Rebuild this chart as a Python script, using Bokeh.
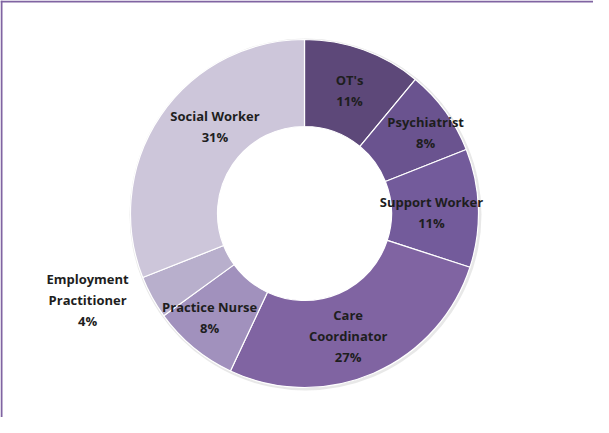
import numpy as np
from bokeh.plotting import figure
from bokeh.models import Range1d, Span, ColumnDataSource
from bokeh.core.properties import value
from bokeh.embed import file_html
from bokeh.resources import INLINE

# ---- data ----
categories = ["OT's", "Psychiatrist", "Support Worker", "Care Coordinator",
              "Practice Nurse", "Employment Practitioner", "Social Worker"]
label_names = ["OT's", "Psychiatrist", "Support Worker", "Care\nCoordinator",
               "Practice Nurse", "Employment\nPractitioner", "Social Worker"]
percent = [11, 8, 11, 27, 8, 4, 31]
colors = ["#5d4879", "#6a538f", "#735b9b", "#8064a2", "#a191bd", "#b8afcc", "#cdc6da"]

# ---- geometry (pixels == data units) ----
W, H = 593, 417
cx_px, cy_px = 304, 213          # donut centre inside the figure (from top-left)
R_OUT, R_IN, R_LAB = 174, 87, 130

vals = np.array(percent, dtype=float)
frac = vals / vals.sum()
cum = np.concatenate([[0], np.cumsum(frac)])
start = np.pi / 2 - 2 * np.pi * cum[:-1]
end = np.pi / 2 - 2 * np.pi * cum[1:]
mid = (cum[:-1] + cum[1:]) / 2 * 2 * np.pi   # clockwise from 12 o'clock

src = ColumnDataSource(dict(start=start, end=end, color=colors, cat=categories))

p = figure(width=W, height=H, output_backend="svg", toolbar_location=None,
           x_range=Range1d(-cx_px, W - cx_px), y_range=Range1d(cy_px - H, cy_px),
           min_border=0, background_fill_color="white", border_fill_color="white")
p.axis.visible = False
p.grid.visible = False
p.outline_line_color = None

# faint shadow ring around the donut
p.annulus(x=1, y=-1, inner_radius=R_OUT - 2, outer_radius=R_OUT + 2,
          fill_color="#d9d9d9", fill_alpha=0.6, line_color=None)

p.annular_wedge(x=0, y=0, inner_radius=R_IN, outer_radius=R_OUT,
                start_angle="start", end_angle="end", direction="clock",
                fill_color="color", line_color="white", line_width=1.2, source=src)

# label placement: slice centre plus small pixel nudges (as in the original)
x_off = [1, 16, -3, -8, -12, -103, 18]
y_off = [-1, -5, 3, 3, 4, 24, -14]
lab = ColumnDataSource(dict(x=R_LAB * np.sin(mid), y=R_LAB * np.cos(mid),
                            text=[f"{n}\n{v}%" for n, v in zip(label_names, percent)],
                            xo=x_off, yo=y_off))
p.text(x="x", y="y", text="text", x_offset="xo", y_offset="yo", source=lab,
       text_align="center", text_baseline="middle",
       text_font=value("Open Sans"), text_font_style="bold",
       text_font_size="13px", text_color="#1e1e1e", text_line_height=1.16)

# chart border (left and top visible in the original)
p.add_layout(Span(location=-cx_px + 1, dimension="height", line_color="#8064a2", line_width=2))
p.add_layout(Span(location=cy_px - 1, dimension="width", line_color="#8064a2", line_width=2))

open("out.html", "w").write(file_html(p, INLINE))
